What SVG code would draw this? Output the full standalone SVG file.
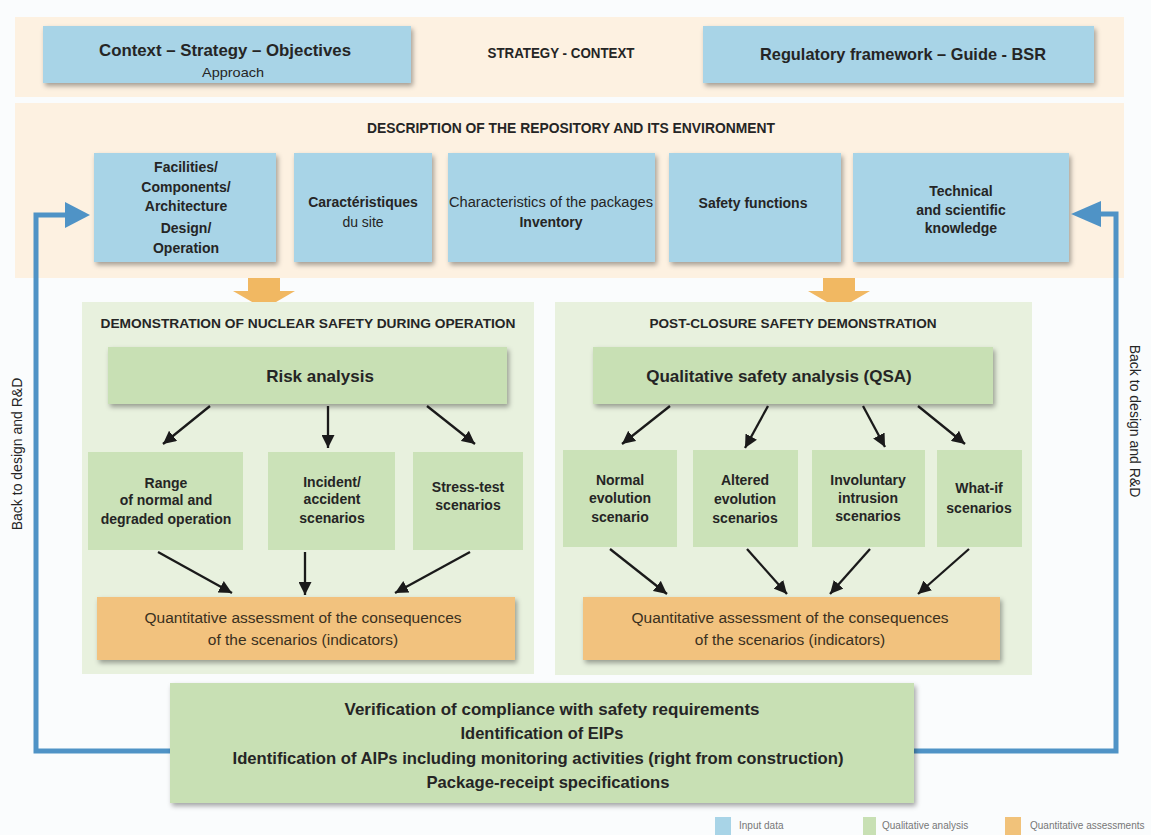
<svg xmlns="http://www.w3.org/2000/svg" width="1151" height="835" viewBox="0 0 1151 835">
<style>
text{font-family:"Liberation Sans",Arial,sans-serif;fill:#252525;text-anchor:middle}
.cb{font-weight:bold}
.band{fill:#fdf1e1}
.blue{fill:#a8d4e7}
.panel{fill:#e8f1de}
.gbox{fill:#c8e0b4}
.sbox{fill:#cbe2b8}
.obox{fill:#f2c27e}
.t13{font-size:14px;font-weight:bold}
.q{font-size:15.5px;fill:#3a3020}
.fb{fill:none;stroke:#4f93c6;stroke-width:5}
.blk{stroke:#1a1a1a;stroke-width:2.3;fill:none;marker-end:url(#ah)}
.oarr{fill:#f1b862}
.leg{font-size:10px;fill:#777;text-anchor:start}
</style>
<defs>
<filter id="sh" x="-10%" y="-20%" width="125%" height="150%">
<feDropShadow dx="2" dy="3" stdDeviation="2.5" flood-color="#000" flood-opacity="0.35"/>
</filter>
<marker id="ah" markerUnits="userSpaceOnUse" markerWidth="14" markerHeight="13" refX="13" refY="6.5" orient="auto">
<path d="M0,0 L13,6.5 L0,13 z" fill="#1a1a1a"/>
</marker>
</defs>
<rect x="0" y="0" width="1151" height="835" fill="#fafcfd"/>

<g id="bands">
<rect class="band" x="15" y="17" width="1109" height="80"/>
<rect class="band" x="15" y="103" width="1109" height="175"/>
<text class="cb" x="561" y="58" font-size="14" textLength="147" lengthAdjust="spacingAndGlyphs">STRATEGY - CONTEXT</text>
<text class="cb" x="571" y="133" font-size="14" textLength="408" lengthAdjust="spacingAndGlyphs">DESCRIPTION OF THE REPOSITORY AND ITS ENVIRONMENT</text>
</g>

<g id="context">
<rect class="blue" x="43" y="26" width="368" height="57" filter="url(#sh)"/>
<text class="cb" x="225" y="56" font-size="17" textLength="252" lengthAdjust="spacingAndGlyphs">Context – Strategy – Objectives</text>
<text x="233" y="77" font-size="13" textLength="62" lengthAdjust="spacingAndGlyphs">Approach</text>
</g>
<g id="regulatory">
<rect class="blue" x="703" y="26" width="391" height="57" filter="url(#sh)"/>
<text class="cb" x="903" y="60" font-size="17" textLength="286" lengthAdjust="spacingAndGlyphs">Regulatory framework – Guide - BSR</text>
</g>

<g id="facilities">
<rect class="blue" x="94" y="153" width="182" height="109" filter="url(#sh)"/>
<text class="t13" x="186" y="172">Facilities/</text>
<text class="t13" x="186" y="192">Components/</text>
<text class="t13" x="186" y="211">Architecture</text>
<text class="t13" x="186" y="233">Design/</text>
<text class="t13" x="186" y="253">Operation</text>
</g>
<g id="site">
<rect class="blue" x="294" y="153" width="138" height="109" filter="url(#sh)"/>
<text class="t13" x="363" y="207">Caractéristiques</text>
<text x="363" y="227" font-size="14">du site</text>
</g>
<g id="packages">
<rect class="blue" x="448" y="153" width="207" height="109" filter="url(#sh)"/>
<text x="551" y="207" font-size="14" textLength="204" lengthAdjust="spacingAndGlyphs">Characteristics of the packages</text>
<text class="t13" x="551" y="227">Inventory</text>
</g>
<g id="safety">
<rect class="blue" x="669" y="153" width="172" height="109" filter="url(#sh)"/>
<text class="t13" x="753" y="208">Safety functions</text>
</g>
<g id="knowledge">
<rect class="blue" x="853" y="153" width="216" height="109" filter="url(#sh)"/>
<text class="t13" x="961" y="196">Technical</text>
<text class="t13" x="961" y="215">and scientific</text>
<text class="t13" x="961" y="233">knowledge</text>
</g>

<g id="orange-arrows">
<polygon class="oarr" points="248,278 280,278 280,291 295,291 264,309 233,291 248,291"/>
<polygon class="oarr" points="823,278 855,278 855,291 870,291 839,309 808,291 823,291"/>
</g>

<g id="operation-panel">
<rect class="panel" x="82" y="302" width="452" height="372"/>
<text class="cb" x="308" y="328" font-size="13" textLength="415" lengthAdjust="spacingAndGlyphs">DEMONSTRATION OF NUCLEAR SAFETY DURING OPERATION</text>
</g>
<g id="postclosure-panel">
<rect class="panel" x="555" y="302" width="477" height="373"/>
<text class="cb" x="793" y="328" font-size="13" textLength="287" lengthAdjust="spacingAndGlyphs">POST-CLOSURE SAFETY DEMONSTRATION</text>
</g>

<g id="risk">
<rect class="gbox" x="108" y="347" width="399" height="57" filter="url(#sh)"/>
<text class="cb" x="320" y="382" font-size="17">Risk analysis</text>
</g>
<g id="qsa">
<rect class="gbox" x="593" y="347" width="400" height="57" filter="url(#sh)"/>
<text class="cb" x="779" y="382" font-size="17">Qualitative safety analysis (QSA)</text>
</g>

<g id="range">
<rect class="sbox" x="88" y="452" width="155" height="98"/>
<text class="t13" x="166" y="488">Range</text>
<text class="t13" x="166" y="505">of normal and</text>
<text class="t13" x="166" y="524">degraded operation</text>
</g>
<g id="incident">
<rect class="sbox" x="268" y="452" width="127" height="98"/>
<text class="t13" x="332" y="487">Incident/</text>
<text class="t13" x="332" y="504">accident</text>
<text class="t13" x="332" y="523">scenarios</text>
</g>
<g id="stress">
<rect class="sbox" x="413" y="452" width="110" height="98"/>
<text class="t13" x="468" y="492">Stress-test</text>
<text class="t13" x="468" y="510">scenarios</text>
</g>

<g id="normal">
<rect class="sbox" x="563" y="450" width="114" height="97"/>
<text class="t13" x="620" y="485">Normal</text>
<text class="t13" x="620" y="503">evolution</text>
<text class="t13" x="620" y="522">scenario</text>
</g>
<g id="altered">
<rect class="sbox" x="693" y="450" width="105" height="97"/>
<text class="t13" x="745" y="485">Altered</text>
<text class="t13" x="745" y="504">evolution</text>
<text class="t13" x="745" y="523">scenarios</text>
</g>
<g id="intrusion">
<rect class="sbox" x="812" y="450" width="113" height="97"/>
<text class="t13" x="868" y="485">Involuntary</text>
<text class="t13" x="868" y="503">intrusion</text>
<text class="t13" x="868" y="521">scenarios</text>
</g>
<g id="whatif">
<rect class="sbox" x="937" y="450" width="85" height="97"/>
<text class="t13" x="979" y="493">What-if</text>
<text class="t13" x="979" y="513">scenarios</text>
</g>

<g id="quant-operation">
<rect class="obox" x="97" y="597" width="418" height="63" filter="url(#sh)"/>
<text class="q" x="303" y="623">Quantitative assessment of the consequences</text>
<text class="q" x="303" y="645">of the scenarios (indicators)</text>
</g>
<g id="quant-postclosure">
<rect class="obox" x="583" y="597" width="417" height="63" filter="url(#sh)"/>
<text class="q" x="790" y="623">Quantitative assessment of the consequences</text>
<text class="q" x="790" y="645">of the scenarios (indicators)</text>
</g>

<g id="connectors">
<path class="fb" d="M172,751 H36 V215 H68"/>
<polygon points="65,202 90,215 65,228" fill="#4f93c6"/>
<path class="fb" d="M912,751 H1116 V214 H1098"/>
<polygon points="1101,201 1071,214 1101,227" fill="#4f93c6"/>
<line class="blk" x1="210" y1="406" x2="163" y2="444"/>
<line class="blk" x1="328" y1="406" x2="328" y2="448"/>
<line class="blk" x1="427" y1="406" x2="475" y2="444"/>
<line class="blk" x1="158" y1="552" x2="232" y2="593"/>
<line class="blk" x1="305" y1="552" x2="305" y2="595"/>
<line class="blk" x1="470" y1="552" x2="395" y2="593"/>
<line class="blk" x1="670" y1="406" x2="622" y2="444"/>
<line class="blk" x1="768" y1="406" x2="745" y2="448"/>
<line class="blk" x1="863" y1="406" x2="885" y2="447"/>
<line class="blk" x1="918" y1="406" x2="965" y2="444"/>
<line class="blk" x1="610" y1="549" x2="667" y2="594"/>
<line class="blk" x1="747" y1="549" x2="787" y2="594"/>
<line class="blk" x1="870" y1="549" x2="830" y2="594"/>
<line class="blk" x1="969" y1="549" x2="918" y2="594"/>
<text x="17" y="454" font-size="14" fill="#333" transform="rotate(-90 17 454)" dy="5">Back to design and R&amp;D</text>
<text x="1135" y="421" font-size="14" fill="#333" transform="rotate(90 1135 421)" dy="5">Back to design and R&amp;D</text>
</g>

<g id="verification">
<rect class="gbox" x="170" y="683" width="744" height="120" filter="url(#sh)"/>
<text class="cb" x="552" y="715" font-size="17" textLength="415" lengthAdjust="spacingAndGlyphs">Verification of compliance with safety requirements</text>
<text class="cb" x="542" y="739" font-size="17" textLength="163" lengthAdjust="spacingAndGlyphs">Identification of EIPs</text>
<text class="cb" x="538" y="764" font-size="17" textLength="611" lengthAdjust="spacingAndGlyphs">Identification of AIPs including monitoring activities (right from construction)</text>
<text class="cb" x="548" y="788" font-size="17" textLength="243" lengthAdjust="spacingAndGlyphs">Package-receipt specifications</text>
</g>

<g id="legend">
<rect x="715" y="817" width="16" height="18" fill="#a8d4e7"/>
<text class="leg" x="739" y="829">Input data</text>
<rect x="863" y="817" width="13" height="18" fill="#c8e0b4"/>
<text class="leg" x="882" y="829">Qualitative analysis</text>
<rect x="1005" y="817" width="16" height="18" fill="#f1c27a"/>
<text class="leg" x="1030" y="829">Quantitative assessments</text>
</g>
</svg>
